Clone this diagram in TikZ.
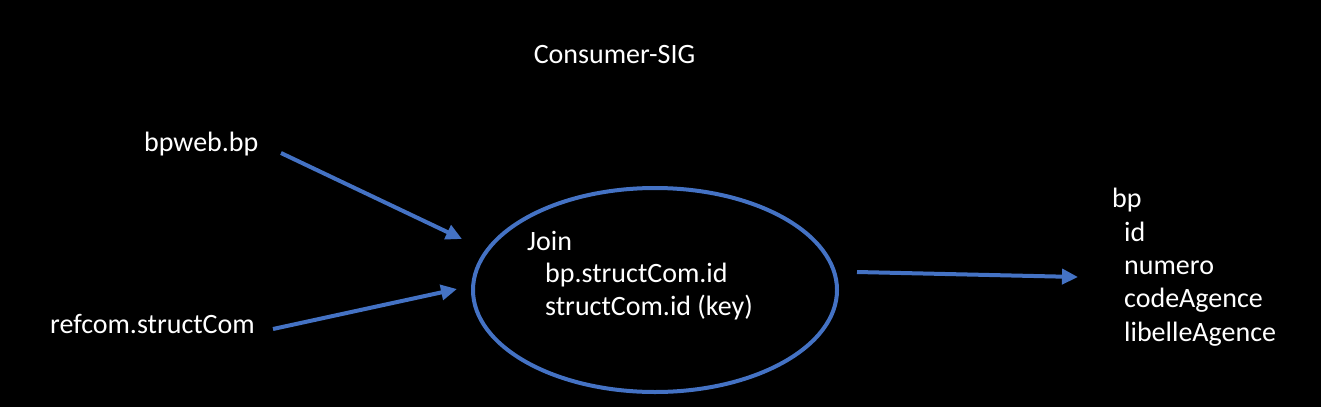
\documentclass[tikz,border=0pt]{standalone}
\usepackage{fontspec}
\setmainfont{Carlito}
\usetikzlibrary{arrows.meta,shapes.geometric}
\definecolor{obl}{HTML}{4472C4}
\begin{document}
\begin{tikzpicture}[x=1pt,y=-1pt,
  txt/.style={text=white,inner sep=0pt,font=\fontsize{28}{33}\selectfont},
  conn/.style={draw=obl,line width=4pt,-{Triangle[length=16pt,width=15pt]}}]
\fill[black] (0,0) rectangle (1321,407);
\useasboundingbox (0,0) rectangle (1321,407);
\node[txt,anchor=base] (title) at (614.5,63) {Consumer-SIG};
\node[txt,anchor=base west] (bpweb) at (144,151) {bpweb.bp};
\node[txt,anchor=base west] (refcom) at (50,333) {refcom.structCom};
\node[draw=obl,line width=4pt,ellipse,inner sep=0pt,minimum width=364pt,minimum height=204pt] (join) at (655,290) {};
\node[txt,anchor=base west] (j1) at (527,250) {Join};
\node[txt,anchor=base west] (j2) at (545,282) {bp.structCom.id};
\node[txt,anchor=base west] (j3) at (545,315) {structCom.id (key)};
\node[txt,anchor=base west] (o1) at (1112,207) {bp};
\node[txt,anchor=base west] (o2) at (1124,241) {id};
\node[txt,anchor=base west] (o3) at (1124,274) {numero};
\node[txt,anchor=base west] (o4) at (1124,307) {codeAgence};
\node[txt,anchor=base west] (o5) at (1124,341) {libelleAgence};
\coordinate (a1s) at (281,153);
\coordinate (a1e) at (462,239);
\coordinate (a2s) at (273,329);
\coordinate (a2e) at (457,289);
\coordinate (a3s) at (857,272);
\coordinate (a3e) at (1078,277);
\draw[conn] (a1s) -- (a1e);
\draw[conn] (a2s) -- (a2e);
\draw[conn] (a3s) -- (a3e);
\end{tikzpicture}
\end{document}
